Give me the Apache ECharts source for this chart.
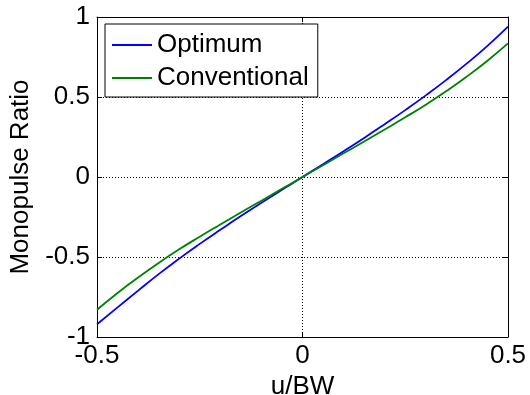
<!DOCTYPE html>
<html>
<head>
<meta charset="utf-8">
<script src="https://cdn.jsdelivr.net/npm/echarts@6/dist/echarts.min.js"></script>
<style>
  html, body { margin: 0; padding: 0; background: #fff; }
  #chart { width: 530px; height: 395px; }
</style>
</head>
<body>
<div id="chart"></div>
<script>
// u/BW samples
var uValues = [-0.5, -0.45, -0.4, -0.35, -0.3, -0.25, -0.2, -0.15, -0.1, -0.05, 0,
  0.05, 0.1, 0.15, 0.2, 0.25, 0.3, 0.35, 0.4, 0.45, 0.5]
// monopulse ratio
var optimum = [-0.92, -0.815, -0.71, -0.607, -0.51, -0.418, -0.33, -0.244, -0.161, -0.08, 0,
  0.08, 0.161, 0.244, 0.33, 0.418, 0.51, 0.607, 0.71, 0.82, 0.94]
var conventional = [-0.83, -0.725, -0.628, -0.537, -0.452, -0.373, -0.297, -0.222, -0.148, -0.074, 0,
  0.074, 0.148, 0.222, 0.297, 0.373, 0.452, 0.537, 0.628, 0.727, 0.835]
var xTicks = [-0.5, 0, 0.5]
var yTicks = [-1, -0.5, 0, 0.5, 1]

function pairs(ys) {
  return uValues.map(function (u, i) { return [u, ys[i]] })
}

var font = 'Liberation Sans, Arial, sans-serif'
var chart = echarts.init(document.getElementById('chart'))

var dotted = { show: true, lineStyle: { color: '#000', type: [1, 2], width: 1 } }
var box = { show: true, onZero: false, lineStyle: { color: '#000', width: 1 } }
var tick = { show: true, inside: true, length: 5, lineStyle: { color: '#000' } }

chart.setOption({
  animation: false,
  textStyle: { fontFamily: font },
  grid: { left: 97, right: 22, top: 17, bottom: 58, outerBoundsMode: 'none', containLabel: false },
  legend: {
    left: 105,
    top: 24,
    orient: 'vertical',
    data: ['Optimum', 'Conventional'],
    icon: 'rect',
    backgroundColor: '#fff',
    borderColor: '#000',
    borderWidth: 1,
    borderRadius: 0,
    padding: [6, 9, 4, 7],
    itemWidth: 40,
    itemHeight: 2,
    itemGap: 3,
    textStyle: { fontSize: 26, fontFamily: font, color: '#000', lineHeight: 30 }
  },
  xAxis: [
    {
      type: 'value', min: -0.5, max: 0.5, interval: 0.5,
      name: 'u/BW', nameLocation: 'middle', nameGap: 32,
      nameTextStyle: { fontSize: 26, color: '#000', fontFamily: font },
      axisLine: box, axisTick: tick, splitLine: dotted,
      axisLabel: {
        fontSize: 26, color: '#000', margin: 6, fontFamily: font,
        formatter: function (v) { return xTicks.indexOf(v) >= 0 ? String(v) : '' }
      }
    },
    {
      type: 'value', position: 'top', min: -0.5, max: 0.5, interval: 0.5,
      axisLine: box, axisTick: tick, splitLine: { show: false }, axisLabel: { show: false }
    }
  ],
  yAxis: [
    {
      type: 'value', min: -1, max: 1, interval: 0.5,
      name: 'Monopulse Ratio', nameLocation: 'middle', nameGap: 56,
      nameTextStyle: { fontSize: 26, color: '#000', fontFamily: font },
      axisLine: box, axisTick: tick, splitLine: dotted,
      axisLabel: {
        fontSize: 26, color: '#000', margin: 7, fontFamily: font,
        formatter: function (v) { return yTicks.indexOf(v) >= 0 ? String(v) : '' }
      }
    },
    {
      type: 'value', position: 'right', min: -1, max: 1, interval: 0.5,
      axisLine: box, axisTick: tick, splitLine: { show: false }, axisLabel: { show: false }
    }
  ],
  series: [
    {
      name: 'Optimum', type: 'line', data: pairs(optimum),
      symbol: 'none', smooth: 0.5,
      lineStyle: { color: '#0000ff', width: 1.8 }, itemStyle: { color: '#0000ff' }
    },
    {
      name: 'Conventional', type: 'line', data: pairs(conventional),
      symbol: 'none', smooth: 0.5,
      lineStyle: { color: '#008000', width: 1.8 }, itemStyle: { color: '#008000' }
    }
  ]
})
</script>
</body>
</html>
